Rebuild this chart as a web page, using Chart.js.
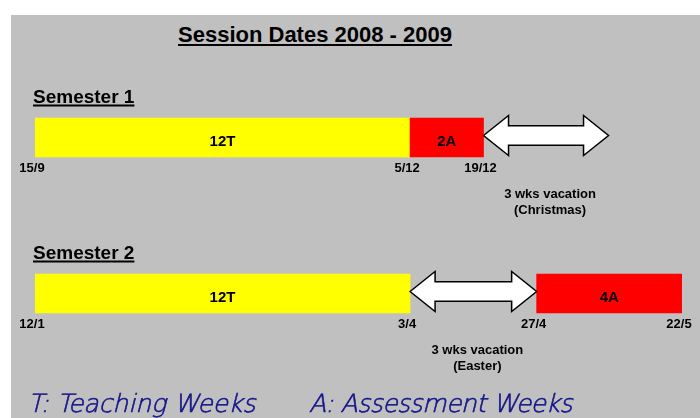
<!DOCTYPE html>
<html>
<head>
<meta charset="utf-8">
<script src="https://cdn.jsdelivr.net/npm/chart.js@4/dist/chart.umd.min.js"></script>
<style>
  body { margin: 0; background: #ffffff; }
  #wrap { position: relative; width: 700px; height: 418px; overflow: hidden; }
  #panel { position: absolute; left: 11px; top: 15px; right: 0; bottom: 0; background: #c0c0c0; }
  #title {
    position: absolute; left: 0; width: 630px; top: 22px; text-align: center;
    font: bold 22px "Liberation Sans", Arial, sans-serif; color: #000;
    text-decoration: underline; text-decoration-thickness: 2px; text-underline-offset: 2px;
  }
  .legend {
    position: absolute; top: 389px; font-family: "DejaVu Sans Light", "DejaVu Sans ExtraLight", "DejaVu Sans", sans-serif;
    font-size: 25px; font-style: italic; font-weight: 200; color: #14148a; white-space: nowrap;
    -webkit-text-stroke: 0.6px #14148a;
  }
  canvas { position: absolute; left: 0; top: 0; }
</style>
</head>
<body>
<div id="wrap">
  <div id="panel"></div>
  <div id="title">Session Dates 2008 - 2009</div>
  <canvas id="sessionChart" width="700" height="418"></canvas>
  <div class="legend" style="left: 28px;">T: Teaching Weeks</div>
  <div class="legend" style="left: 309px; letter-spacing: -0.5px;">A: Assessment Weeks</div>
</div>
<script>
// Categories
const semesters = ["Semester 1", "Semester 2"];

// Block edges along the timeline (drawing units, yellow block = 12)
const sem1Edges = [0, 12, 14.35, 18.35];
const sem2Edges = [0, 12, 16.05, 20.7];

// What each block between two edges is
const sem1Blocks = ["12T", "2A", "vacation"];
const sem2Blocks = ["12T", "vacation", "4A"];

// Dates under the edges
const sem1Dates = ["15/9", "5/12", "19/12", ""];
const sem2Dates = ["12/1", "3/4", "27/4", "22/5"];

// Vacation notes
const vacationNotes = ["(Christmas)", "(Easter)"];

const edges = [sem1Edges, sem2Edges];
const blocks = [sem1Blocks, sem2Blocks];
const dates = [sem1Dates, sem2Dates];

// Build the floating bar data from the arrays
const weekData = [];
const vacationData = [];
blocks.forEach((list, s) => {
  list.forEach((name, i) => {
    const item = { x: [edges[s][i], edges[s][i + 1]], y: semesters[s], name: name, sem: s };
    if (name === "vacation") vacationData.push(item);
    else weekData.push(item);
  });
});

// Draws labels, arrows and dates on top of the bars
const sessionPlugin = {
  id: "sessionPlugin",
  afterDatasetsDraw(chart) {
    const ctx = chart.ctx;
    const xScale = chart.scales.x;
    const yScale = chart.scales.y;
    ctx.save();
    ctx.fillStyle = "#000";
    ctx.textAlign = "center";
    ctx.textBaseline = "middle";

    // block labels
    ctx.font = "bold 15px 'Liberation Sans', Arial, sans-serif";
    chart.getDatasetMeta(0).data.forEach((el, i) => {
      const left = Math.min(el.x, el.base);
      const right = Math.max(el.x, el.base);
      ctx.fillText(weekData[i].name, (left + right) / 2, el.y + 4);
    });

    // vacation arrows
    chart.getDatasetMeta(1).data.forEach((el, i) => {
      const l = Math.min(el.x, el.base);
      const r = Math.max(el.x, el.base);
      const y = el.y - 2;
      const hh = el.height / 2 + 0.5;
      const sh = el.height / 4;
      const head = 25;
      ctx.beginPath();
      ctx.moveTo(l, y);
      ctx.lineTo(l + head, y - hh);
      ctx.lineTo(l + head, y - sh);
      ctx.lineTo(r - head, y - sh);
      ctx.lineTo(r - head, y - hh);
      ctx.lineTo(r, y);
      ctx.lineTo(r - head, y + hh);
      ctx.lineTo(r - head, y + sh);
      ctx.lineTo(l + head, y + sh);
      ctx.lineTo(l + head, y + hh);
      ctx.closePath();
      ctx.fillStyle = "#ffffff";
      ctx.fill();
      ctx.lineWidth = 1.5;
      ctx.strokeStyle = "#000";
      ctx.stroke();

      ctx.fillStyle = "#000";
      ctx.font = "bold 13px 'Liberation Sans', Arial, sans-serif";
      const cx = (l + r) / 2 + 4;
      ctx.fillText("3 wks vacation", cx, el.y + 57);
      ctx.fillText(vacationNotes[vacationData[i].sem], cx, el.y + 73);
    });

    // dates under the edges, and semester headings
    semesters.forEach((sem, s) => {
      const yc = yScale.getPixelForValue(s);
      ctx.font = "bold 13px 'Liberation Sans', Arial, sans-serif";
      ctx.textAlign = "center";
      edges[s].forEach((edge, i) => {
        if (dates[s][i]) ctx.fillText(dates[s][i], xScale.getPixelForValue(edge) - 3, yc + 31);
      });

      ctx.font = "bold 19px 'Liberation Sans', Arial, sans-serif";
      ctx.textAlign = "left";
      ctx.textBaseline = "alphabetic";
      const w = ctx.measureText(sem).width;
      ctx.fillText(sem, 33, yc - 35);
      ctx.fillRect(33, yc - 33, w, 2);
      ctx.textBaseline = "middle";
    });
    ctx.restore();
  },
};

const ctx1 = document.getElementById("sessionChart").getContext("2d");
new Chart(ctx1, {
  type: "bar",
  data: {
    labels: semesters,
    datasets: [
      {
        label: "Weeks",
        data: weekData,
        grouped: false,
        barThickness: 39,
        borderWidth: 0,
        backgroundColor: (c) => (c.raw && c.raw.name.endsWith("T") ? "#ffff00" : "#ff0000"),
      },
      {
        label: "Vacation",
        data: vacationData,
        grouped: false,
        barThickness: 39,
        backgroundColor: "rgba(0, 0, 0, 0)",
      },
    ],
  },
  options: {
    indexAxis: "y",
    responsive: false,
    animation: false,
    layout: { padding: { left: 35, right: 18, top: 59.5, bottom: 46.5 } },
    scales: {
      x: { type: "linear", min: 0, max: 20.7, display: false },
      y: { display: false },
    },
    plugins: {
      legend: { display: false },
      tooltip: { enabled: false },
    },
  },
  plugins: [sessionPlugin],
});
</script>
</body>
</html>
